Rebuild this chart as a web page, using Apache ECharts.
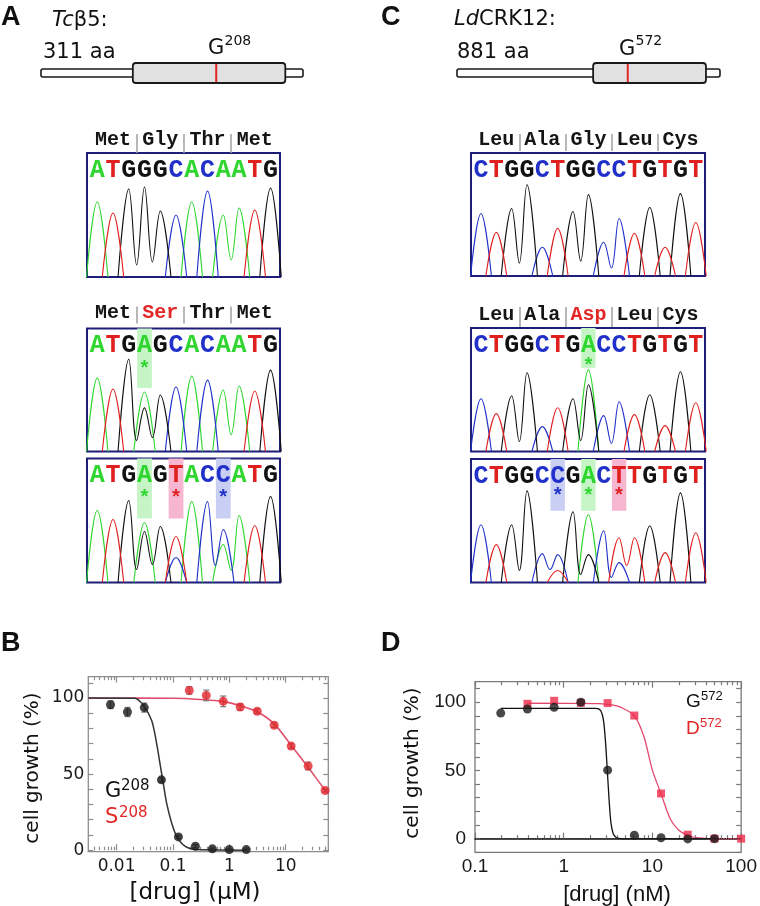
<!DOCTYPE html>
<html>
<head>
<meta charset="utf-8">
<title>Tcb5 / LdCRK12 resistance mutations</title>
<script src="https://cdn.jsdelivr.net/npm/echarts@6/dist/echarts.min.js"></script>
<style>html,body{margin:0;padding:0;background:#fff}</style>
</head>
<body>
<div id="main" style="width:760px;height:906px;"></div>
<script>
// ---- gene schematics (amino acid positions) ----
const geneLengths = [311, 881];
const domainStarts = [109, 456];
const domainEnds = [290, 834];
const mutationSites = [208, 572];

// ---- sequencing traces: called bases, peak heights, extra (mixed) peaks, valleys between same-base neighbours ----
const seqA1 = 'ATGGGCACAATG';
const seqA2 = 'ATGAGCACAATG';
const seqA3 = 'ATGAGTACCATG';
const seqC1 = 'CTGGCTGGCCTGTGT';
const seqC2 = 'CTGGCTGACCTGTGT';
const seqC3 = 'CTGGCCGACTTGTGT';

const heightsA1 = [75, 64, 88, 90, 66, 62, 75, 86, 62, 69, 67, 89];
const heightsA2 = [74, 63, 93, 60, 57, 65, 76, 72, 62, 66, 61, 82];
const heightsA3 = [72, 63, 82, 60, 56, 46, 81, 81, 53, 67, 57, 86];
const heightsC1 = [63, 44, 68, 92, 29, 48, 65, 82, 34, 58, 43, 69, 29, 83, 54];
const heightsC2 = [53, 38, 56, 79, 25, 44, 53, 82, 36, 50, 37, 57, 26, 80, 49];
const heightsC3 = [58, 38, 58, 92, 29, 28, 71, 68, 52, 45, 45, 57, 30, 90, 50];

const extrasA2 = [['G', 3, 44]];
const extrasA3 = [['G', 3, 51], ['C', 5, 25], ['A', 8, 38]];
const extrasC2 = [['G', 7, 67]];
const extrasC3 = [['T', 5, 12], ['G', 7, 28], ['C', 9, 20]];

const valleysA1 = [['G', 2, 12], ['G', 3, 15], ['A', 8, 17]];
const valleysA2 = [['G', 2, 11], ['G', 3, 14], ['A', 8, 17]];
const valleysA3 = [['G', 2, 13], ['G', 3, 18], ['C', 7, 17], ['A', 8, 12]];
const valleysC1 = [['G', 2, 13], ['G', 6, 15], ['C', 8, 8]];
const valleysC2 = [['G', 2, 10], ['G', 6, 11], ['C', 8, 8]];
const valleysC3 = [['G', 2, 12], ['C', 4, 13], ['G', 6, 8], ['C', 8, 5], ['T', 9, 17]];

const aaA1 = ['Met', 'Gly', 'Thr', 'Met'];
const aaA2 = ['Met', 'Ser', 'Thr', 'Met'];
const aaC1 = ['Leu', 'Ala', 'Gly', 'Leu', 'Cys'];
const aaC2 = ['Leu', 'Ala', 'Asp', 'Leu', 'Cys'];

const markedA2 = [3];
const markedA3 = [3, 5, 8];
const markedC2 = [7];
const markedC3 = [5, 7, 9];

// ---- panel B: T. cruzi growth (uM) ----
const doseBG = [0.0078, 0.0156, 0.031, 0.0625, 0.125, 0.25, 0.5, 1, 2];
const growthBG = [95.6, 90.8, 93.7, 46.2, 8.7, 2.6, 0.9, 0.4, 0.4];
const errBG = [2.5, 3, 3, 1.5, 1, 1, 0.5, 0.5, 0.5];
const doseBS = [0.195, 0.39, 0.78, 1.56, 3.125, 6.25, 12.5, 25, 50];
const growthBS = [105, 101.7, 97.8, 94.1, 91.3, 82.1, 68.4, 55.3, 39.2];
const errBS = [2.5, 3.5, 3.5, 2, 1.5, 1.5, 1.5, 2.5, 1];
const fitBG = [[0.00315, 100], [0.0212, 99.8], [0.0297, 95.2], [0.0418, 85.4], [0.0513, 70.2], [0.0588, 57.1],
  [0.0673, 44], [0.0772, 30.9], [0.0948, 17.9], [0.116, 9.2], [0.163, 2.6], [0.264, 0.4], [2, 0]];
const fitBS = [[0.00315, 100], [0.1, 99.8], [0.3, 99], [0.78, 97.6], [1.56, 95], [3.125, 91], [6.25, 83],
  [12.5, 69], [25, 54.5], [50, 39.5], [57, 37.5]];
const ticksB = [0.01, 0.1, 1, 10];
const tickLabelsB = ['0.01', '0.1', '1', '10'];

// ---- panel D: L. donovani growth (nM) ----
const doseDG = [0.195, 0.39, 0.78, 1.56, 3.125, 6.25, 12.5, 25, 50];
const growthDG = [92, 95, 96.3, 100, 50.2, 2.5, 0.7, -0.2, 0];
const doseDD = [0.39, 0.78, 1.56, 3.125, 6.25, 12.5, 25, 50, 100];
const growthDD = [98.8, 101, 99.5, 99.3, 90.2, 33.1, 2.9, 0, 0];
const fitDG = [[0.195, 95.5], [2.3, 95.4], [2.6, 94], [2.8, 87], [2.95, 72], [3.1, 50], [3.25, 28],
  [3.4, 12], [3.6, 4], [3.9, 0.8], [4.5, 0], [50, 0]];
const fitDD = [[0.39, 99.2], [2.5, 99], [3.5, 98], [4.5, 96], [6.25, 90], [8, 75], [10, 50], [12.5, 33],
  [16, 14], [20, 6], [25, 2.5], [33, 0.5], [50, 0], [100, 0]];
const ticksD = [0.1, 1, 10, 100];
const tickLabelsD = ['0.1', '1', '10', '100'];

const yTicksB = [0, 10, 20, 30, 40, 50, 60, 70, 80, 90, 100, 110];
const yTicksD = [-10, 0, 10, 20, 30, 40, 50, 60, 70, 80, 90, 100, 110];
const yLabelTicks = [0, 50, 100];

// ---------------------------------------------------------------
const chart = echarts.init(document.getElementById('main'));
const grids = [], xAxes = [], yAxes = [], series = [];
const addGrid = g => grids.push(g) - 1;
const addX = a => xAxes.push(a) - 1;
const addY = a => yAxes.push(a) - 1;

const baseColors = { A: '#2fd62f', C: '#2030c8', G: '#111111', T: '#e0201f' };
const markColors = { A: '#c6f4c6', C: '#c9cff3', T: '#f6b6d0', G: '#dddddd' };
const mono = 'Liberation Mono';
const sans = 'DejaVu Sans';
const RED = '#e32626';
const PEAK_HALF = 0.68; // half width of a trace peak, in base spacings

// each peak (or run of same-base peaks) becomes its own smoothed segment
function channelTrace(seq, heights, extras, valleys, ch) {
  const n = seq.length;
  const h = seq.split('').map((b, i) => (b === ch ? heights[i] : 0));
  extras.forEach(e => { if (e[0] === ch) h[e[1]] = e[2]; });
  const dip = i => valleys.find(v => v[0] === ch && v[1] === i);
  const pts = [];
  for (let i = 0; i < n; i++) {
    if (!h[i]) continue;
    if (!(i > 0 && h[i - 1])) pts.push([i - PEAK_HALF, 0]);
    pts.push([i, h[i]]);
    if (i + 1 < n && h[i + 1]) {
      const d = dip(i);
      pts.push([i + 0.5, d ? d[2] : 0]);
    } else {
      pts.push([i + PEAK_HALF, 0]);
      pts.push([i + PEAK_HALF, '-']);
    }
  }
  return pts;
}

function addChromatogram(c) {
  const n = c.seq.length;
  const gi = addGrid({ left: c.box[0], top: c.box[1], width: c.box[2], height: c.box[3],
    show: true, borderColor: '#1e1e78', borderWidth: 2, backgroundColor: 'transparent' });
  const range = { min: -0.65, max: n - 0.4 };
  const xi = addX({ gridIndex: gi, type: 'value', ...range, show: false });
  const yi = addY({ gridIndex: gi, type: 'value', min: 0, max: 124, show: false });

  const rich = {};
  const starRich = {};
  'ACGT'.split('').forEach(b => {
    rich[b] = { color: baseColors[b], fontFamily: mono, fontWeight: 'bold', fontSize: 25 };
    starRich[b] = { color: baseColors[b], fontFamily: mono, fontWeight: 'bold', fontSize: 20 };
  });
  addX({ gridIndex: gi, type: 'value', position: 'top', ...range, z: 10,
    axisLine: { show: false }, axisTick: { show: false }, splitLine: { show: false },
    axisLabel: { inside: true, margin: 5, customValues: [...Array(n).keys()],
      showMinLabel: true, showMaxLabel: true, hideOverlap: false,
      formatter: v => { const b = c.seq[Math.round(v)]; return '{' + b + '|' + b + '}'; }, rich } });

  if (c.marked.length) {
    addX({ gridIndex: gi, type: 'value', position: 'top', ...range, z: 10,
      axisLine: { show: false }, axisTick: { show: false }, splitLine: { show: false },
      axisLabel: { inside: true, margin: c.starGap, customValues: c.marked,
        showMinLabel: true, showMaxLabel: true, hideOverlap: false,
        formatter: v => { const b = c.seq[Math.round(v)]; return '{' + b + '|*}'; }, rich: starRich } });
  }

  if (c.aa) {
    const codonCentres = c.aa.map((_, k) => 3 * k + 1);
    const codonEdges = c.aa.slice(1).map((_, k) => 3 * k + 2.5);
    addX({ gridIndex: gi, type: 'value', position: 'top', ...range, offset: c.aaOffset, z: 10,
      axisLine: { show: false }, splitLine: { show: false },
      axisTick: { show: true, customValues: codonEdges, length: c.aaTick, lineStyle: { color: '#a0a0a0', width: 1.5 } },
      axisLabel: { margin: c.aaMargin, customValues: codonCentres,
        showMinLabel: true, showMaxLabel: true, hideOverlap: false,
        formatter: v => { const k = Math.round((v - 1) / 3); return (k === c.aaMut ? '{m|' : '{n|') + c.aa[k] + '}'; },
        rich: {
          n: { color: '#151515', fontFamily: mono, fontWeight: 'bold', fontSize: 20 },
          m: { color: RED, fontFamily: mono, fontWeight: 'bold', fontSize: 20 }
        } } });
  }

  ['A', 'C', 'G', 'T'].forEach((ch, k) => {
    const s = {
      type: 'line', xAxisIndex: xi, yAxisIndex: yi, smooth: 0.4, symbol: 'none', silent: true,
      connectNulls: false, lineStyle: { color: baseColors[ch], width: 1.1 }, z: 3,
      data: channelTrace(c.seq, c.heights, c.extras, c.valleys, ch)
    };
    if (k === 0 && c.marked.length) {
      s.markArea = { silent: true, z: 1,
        data: c.marked.map(i => [
          { xAxis: i - 0.47, yAxis: 124 - c.hl, itemStyle: { color: markColors[c.seq[i]] } },
          { xAxis: i + 0.47, yAxis: 124 }
        ]) };
    }
    series.push(s);
  });
}

const chromas = [
  { seq: seqA1, heights: heightsA1, extras: [], valleys: valleysA1, aa: aaA1, aaMut: -1, marked: [],
    box: [87, 153, 193, 124], aaOffset: 0, aaTick: 19, aaMargin: 3 },
  { seq: seqA2, heights: heightsA2, extras: extrasA2, valleys: valleysA2, aa: aaA2, aaMut: 1, marked: markedA2,
    box: [87, 328.5, 193, 123], aaOffset: 5, aaTick: 17, aaMargin: 1, hl: 60, starGap: 31 },
  { seq: seqA3, heights: heightsA3, extras: extrasA3, valleys: valleysA3, marked: markedA3,
    box: [87, 458.5, 193, 124], hl: 60, starGap: 30 },
  { seq: seqC1, heights: heightsC1, extras: [], valleys: valleysC1, aa: aaC1, aaMut: -1, marked: [],
    box: [471, 153, 234, 123], aaOffset: 2, aaTick: 17, aaMargin: 1 },
  { seq: seqC2, heights: heightsC2, extras: extrasC2, valleys: valleysC2, aa: aaC2, aaMut: 2, marked: markedC2,
    box: [471, 328, 234, 123.5], aaOffset: 1, aaTick: 20, aaMargin: 2, hl: 40, starGap: 29 },
  { seq: seqC3, heights: heightsC3, extras: extrasC3, valleys: valleysC3, marked: markedC3,
    box: [471, 459, 234, 123.5], hl: 52, starGap: 28 }
];
chromas.forEach(addChromatogram);

// ---- gene schematics ----
function addGene(k, left, width) {
  const gi = addGrid({ left, top: 63, width, height: 20 });
  const xi = addX({ gridIndex: gi, type: 'value', min: 0, max: geneLengths[k], show: false });
  const yi = addY({ gridIndex: gi, type: 'value', min: 0, max: 1, show: false });
  series.push({
    type: 'custom', xAxisIndex: xi, yAxisIndex: yi, silent: true, clip: false,
    data: [[0, geneLengths[k], 0], [domainStarts[k], domainEnds[k], 1], [mutationSites[k], mutationSites[k], 2]],
    renderItem: (params, api) => {
      const kind = api.value(2);
      const a = api.coord([api.value(0), 0.5]);
      const b = api.coord([api.value(1), 0.5]);
      if (kind === 0) {
        return { type: 'rect', shape: { x: a[0], y: a[1] - 4, width: b[0] - a[0], height: 8, r: 2 },
          style: { fill: '#ffffff', stroke: '#1a1a1a', lineWidth: 1.6 } };
      }
      if (kind === 1) {
        return { type: 'rect', shape: { x: a[0], y: a[1] - 10, width: b[0] - a[0], height: 20, r: 3 },
          style: { fill: '#e1e1e1', stroke: '#1a1a1a', lineWidth: 1.8 } };
      }
      return { type: 'line', shape: { x1: a[0], y1: a[1] - 9, x2: a[0], y2: a[1] + 9 },
        style: { stroke: RED, lineWidth: 2 } };
    }
  });
}
addGene(0, 41, 262);
addGene(1, 457, 263);

// ---- dose response plots ----
function minorTicks(lo, hi) {
  const out = [];
  for (let e = Math.floor(Math.log10(lo)); e <= Math.ceil(Math.log10(hi)); e++) {
    for (let m = 2; m <= 9; m++) {
      const v = m * Math.pow(10, e);
      if (v > lo * 1.001 && v < hi * 0.999) out.push(v);
    }
  }
  return out;
}

function errorBars(xi, yi, xs, ys, es, color) {
  return {
    type: 'custom', xAxisIndex: xi, yAxisIndex: yi, silent: true, z: 3,
    data: xs.map((x, i) => [x, ys[i] - es[i], ys[i] + es[i]]),
    renderItem: (params, api) => {
      const lo = api.coord([api.value(0), api.value(1)]);
      const hi = api.coord([api.value(0), api.value(2)]);
      const st = { stroke: color, lineWidth: 1.2 };
      return { type: 'group', children: [
        { type: 'line', shape: { x1: lo[0], y1: lo[1], x2: hi[0], y2: hi[1] }, style: st },
        { type: 'line', shape: { x1: lo[0] - 3, y1: lo[1], x2: lo[0] + 3, y2: lo[1] }, style: st },
        { type: 'line', shape: { x1: hi[0] - 3, y1: hi[1], x2: hi[0] + 3, y2: hi[1] }, style: st }
      ] };
    }
  };
}

function addDosePlot(p) {
  const gi = addGrid({ left: p.box[0], top: p.box[1], width: p.box[2], height: p.box[3],
    show: true, borderColor: p.frame, borderWidth: 1.3, backgroundColor: 'transparent' });
  const base = { gridIndex: gi, type: 'log', min: p.xMin, max: p.xMax, splitLine: { show: false } };
  const tickStyle = { color: p.frame, width: 1.2 };
  const minors = minorTicks(p.xMin, p.xMax);
  const xi = addX({ ...base, position: 'bottom',
    axisLine: p.bottomLine ? { show: true, lineStyle: { color: p.bottomLine, width: 1.5 } } : { show: false },
    axisTick: { inside: true, length: 6, customValues: p.ticks, lineStyle: tickStyle },
    axisLabel: { customValues: p.ticks, margin: p.xMargin, color: '#1a1a1a', fontFamily: p.font, fontSize: p.tickSize,
      showMinLabel: true, showMaxLabel: true, hideOverlap: false,
      formatter: v => {
        let best = 0;
        p.ticks.forEach((t, i) => { if (Math.abs(Math.log10(t / v)) < Math.abs(Math.log10(p.ticks[best] / v))) best = i; });
        return p.tickLabels[best];
      } } });
  addX({ ...base, position: 'bottom', axisLine: { show: false },
    axisTick: { inside: true, length: 3.5, customValues: minors, lineStyle: tickStyle }, axisLabel: { show: false } });
  addX({ ...base, position: 'top', axisLine: { show: false },
    axisTick: { inside: true, length: 6, customValues: p.ticks, lineStyle: tickStyle }, axisLabel: { show: false } });
  addX({ ...base, position: 'top', axisLine: { show: false },
    axisTick: { inside: true, length: 3.5, customValues: minors, lineStyle: tickStyle }, axisLabel: { show: false } });
  const yi = addY({ gridIndex: gi, type: 'value', min: p.yMin, max: p.yMax, position: 'left',
    splitLine: { show: false }, axisLine: { show: false },
    axisTick: { inside: true, length: 5, customValues: p.yTicks, lineStyle: tickStyle },
    axisLabel: { customValues: yLabelTicks, margin: p.yMargin, color: '#1a1a1a', fontFamily: p.font, fontSize: p.tickSize } });
  addY({ gridIndex: gi, type: 'value', min: p.yMin, max: p.yMax, position: 'right',
    splitLine: { show: false }, axisLine: { show: false },
    axisTick: { inside: true, length: 5, customValues: p.yTicks, lineStyle: tickStyle }, axisLabel: { show: false } });
  return { xi, yi };
}

// panel B
const pb = addDosePlot({ box: [88.3, 676.7, 240, 175], xMin: 0.00315, xMax: 57, yMin: -1, yMax: 114,
  ticks: ticksB, tickLabels: tickLabelsB, yTicks: yTicksB, frame: '#8d8d8d', font: sans, tickSize: 17,
  xMargin: 6, yMargin: 4 });
series.push(
  { type: 'line', xAxisIndex: pb.xi, yAxisIndex: pb.yi, data: fitBS, smooth: 0.3, symbol: 'none', silent: true,
    lineStyle: { color: '#e0506c', width: 1.6 }, z: 2 },
  { type: 'line', xAxisIndex: pb.xi, yAxisIndex: pb.yi, data: fitBG, smooth: 0.3, symbol: 'none', silent: true,
    lineStyle: { color: '#333333', width: 1.5 }, z: 2 },
  errorBars(pb.xi, pb.yi, doseBG, growthBG, errBG, '#7a7a7a'),
  errorBars(pb.xi, pb.yi, doseBS, growthBS, errBS, '#7a7a7a'),
  { type: 'scatter', xAxisIndex: pb.xi, yAxisIndex: pb.yi, symbol: 'circle', symbolSize: 9, z: 4,
    itemStyle: { color: '#161616' }, data: doseBG.map((x, i) => [x, growthBG[i]]) },
  { type: 'scatter', xAxisIndex: pb.xi, yAxisIndex: pb.yi, symbol: 'circle', symbolSize: 9, z: 4,
    itemStyle: { color: '#e4262c' }, data: doseBS.map((x, i) => [x, growthBS[i]]) }
);

// panel D
const pd = addDosePlot({ box: [475, 681.7, 266.7, 170.6], xMin: 0.1, xMax: 100, yMin: -10, yMax: 115,
  ticks: ticksD, tickLabels: tickLabelsD, yTicks: yTicksD, frame: '#7a7a7a', bottomLine: '#111111',
  font: 'Liberation Sans', tickSize: 19, xMargin: 5, yMargin: 9 });
series.push(
  { type: 'line', xAxisIndex: pd.xi, yAxisIndex: pd.yi, data: fitDD, smooth: 0.3, symbol: 'none', silent: true,
    lineStyle: { color: '#e2476e', width: 1.3 }, z: 2 },
  { type: 'line', xAxisIndex: pd.xi, yAxisIndex: pd.yi, data: fitDG, smooth: 0.3, symbol: 'none', silent: true,
    lineStyle: { color: '#111111', width: 1.3 }, z: 2,
    markLine: { silent: true, symbol: 'none', label: { show: false }, data: [{ yAxis: 0 }],
      lineStyle: { type: 'dotted', color: '#222222', width: 1.2 } } },
  { type: 'scatter', xAxisIndex: pd.xi, yAxisIndex: pd.yi, symbol: 'rect', symbolSize: 8, z: 4,
    itemStyle: { color: '#ee2a4a' }, data: doseDD.map((x, i) => [x, growthDD[i]]) },
  { type: 'scatter', xAxisIndex: pd.xi, yAxisIndex: pd.yi, symbol: 'circle', symbolSize: 9, z: 5,
    itemStyle: { color: '#1a1a1a' }, data: doseDG.map((x, i) => [x, growthDG[i]]) }
);

// ---- text ----
function txt(text, x, y, size, opts) {
  const o = opts || {};
  return { type: 'text', x, y, rotation: o.rotation || 0, z: 20, silent: true,
    style: { text, fill: o.color || '#111111', fontFamily: o.family || sans, fontSize: size,
      fontWeight: o.weight || 'normal', fontStyle: o.style || 'normal',
      align: o.align || 'left', verticalAlign: 'middle', rich: o.rich } };
}
const ital = { i: { fontStyle: 'italic', fontFamily: sans, fontSize: 21, fill: '#111111' } };
const graphics = [
  txt('A', 1, 18, 27, { family: 'Liberation Sans', weight: 'bold' }),
  txt('C', 381, 18, 27, { family: 'Liberation Sans', weight: 'bold' }),
  txt('B', 1, 644, 27, { family: 'Liberation Sans', weight: 'bold' }),
  txt('D', 381, 644, 27, { family: 'Liberation Sans', weight: 'bold' }),
  txt('{i|Tc}β5:', 52, 21, 21, { rich: ital }),
  txt('311 aa', 43, 53, 21),
  txt('G', 208, 49, 21),
  txt('208', 224.5, 41.5, 14),
  txt('{i|Ld}CRK12:', 454, 19.5, 21, { rich: ital }),
  txt('881 aa', 457, 53, 21),
  txt('G', 619, 49.5, 21),
  txt('572', 635.5, 41.5, 14),
  // panel B labels
  txt('cell growth (%)', 33, 768, 20, { rotation: Math.PI / 2, align: 'center' }),
  txt('[drug] (µM)', 195, 893, 23, { align: 'center' }),
  txt('G', 105, 791.5, 21),
  txt('208', 121, 786, 15),
  txt('S', 105, 818, 21, { color: RED }),
  txt('208', 119, 813, 15, { color: RED }),
  // panel D labels
  txt('cell growth (%)', 413, 763, 20, { rotation: Math.PI / 2, align: 'center' }),
  txt('[drug] (nM)', 617, 895, 22, { align: 'center', family: 'Liberation Sans' }),
  txt('G', 686, 702, 19, { family: 'Liberation Sans' }),
  txt('572', 701, 696.5, 13, { family: 'Liberation Sans' }),
  txt('D', 686, 728.5, 19, { family: 'Liberation Sans', color: RED }),
  txt('572', 700, 723.5, 13, { family: 'Liberation Sans', color: RED })
];

chart.setOption({
  animation: false,
  backgroundColor: '#ffffff',
  grid: grids,
  xAxis: xAxes,
  yAxis: yAxes,
  series: series,
  graphic: graphics
});
</script>
</body>
</html>
